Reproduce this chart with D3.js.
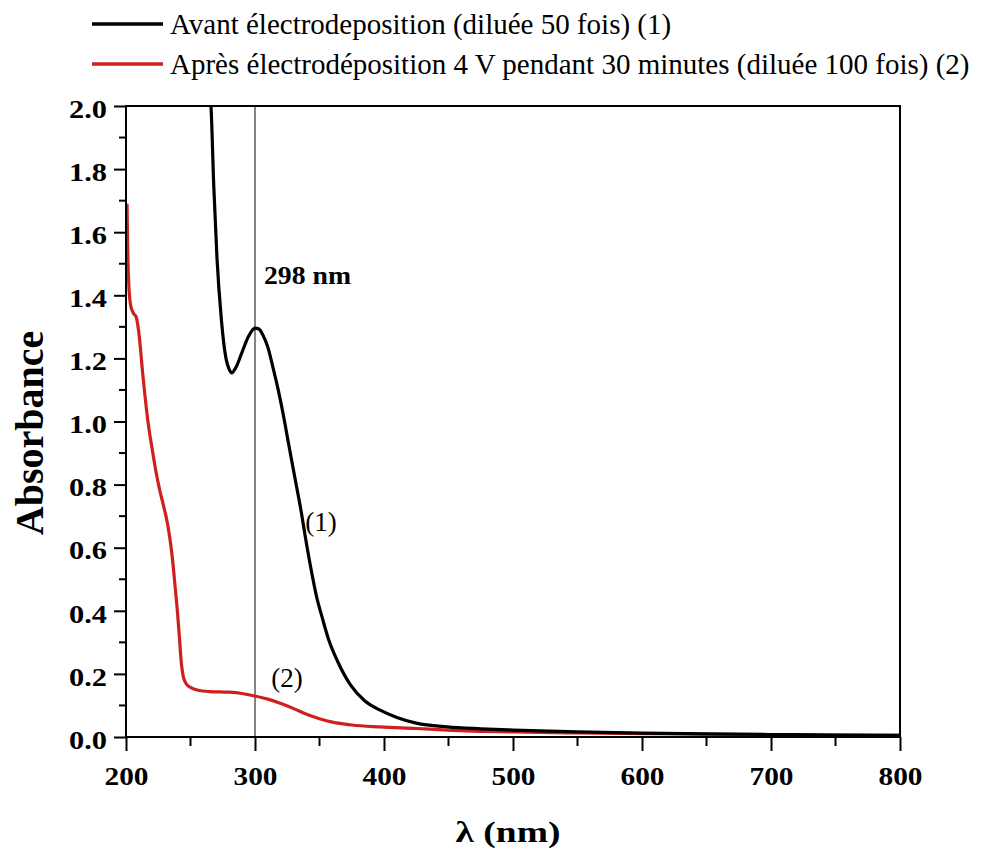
<!DOCTYPE html>
<html>
<head>
<meta charset="utf-8">
<script src="https://cdn.jsdelivr.net/npm/d3@7"></script>
<style>
  body { margin: 0; background: #fff; }
  svg { font-family: "Liberation Serif", "Times New Roman", serif; }
</style>
</head>
<body>
<div id="chart"></div>
<script>
// wavelength (nm), absorbance
const curve1 = [
  [262, 2.15], [266, 1.99], [268, 1.75], [270.5, 1.52], [274, 1.32], [277.5, 1.20],
  [280, 1.165], [282, 1.154], [285, 1.17], [290, 1.22], [295, 1.27], [300, 1.296],
  [303, 1.293], [306, 1.275], [310, 1.235], [314, 1.17], [318, 1.10], [322, 1.02],
  [326, 0.93], [331, 0.82], [336, 0.71], [340, 0.61], [344, 0.52], [348, 0.44],
  [352, 0.38], [357, 0.31], [364, 0.24], [374, 0.165], [385, 0.115], [397, 0.085],
  [410, 0.062], [425, 0.044], [449, 0.032], [475, 0.026], [500, 0.022], [550, 0.016],
  [600, 0.012], [650, 0.010], [700, 0.008], [750, 0.006], [800, 0.005]
];
const curve2 = [
  [200.8, 1.69], [201.2, 1.57], [202, 1.45], [203.5, 1.37], [205.5, 1.345], [208, 1.33],
  [210, 1.28], [213, 1.15], [217, 1.0], [219, 0.945], [221, 0.895], [223.5, 0.835],
  [226, 0.785], [229, 0.735], [232, 0.68], [234, 0.63], [236, 0.565], [238, 0.48],
  [240, 0.39], [241.5, 0.31], [243, 0.23], [244.5, 0.19], [247, 0.167], [251, 0.155],
  [256, 0.148], [265, 0.144], [280, 0.142], [290, 0.138], [300, 0.13], [310, 0.12],
  [319, 0.108], [330, 0.09], [340, 0.072], [350, 0.058], [360, 0.047], [375, 0.038],
  [397, 0.032], [425, 0.027], [449, 0.022], [500, 0.016], [550, 0.013], [600, 0.011],
  [700, 0.007], [800, 0.005]
];
const seriesNames = [
  "Avant électrodeposition (diluée 50 fois) (1)",
  "Après électrodéposition 4 V pendant 30 minutes (diluée 100 fois) (2)"
];
const seriesColors = ["#000000", "#cf2020"];
const xTicks = [200, 300, 400, 500, 600, 700, 800];
const xMinor = [250, 350, 450, 550, 650, 750];
const yTicks = [0, 0.2, 0.4, 0.6, 0.8, 1.0, 1.2, 1.4, 1.6, 1.8, 2.0];
const yMinor = [0.1, 0.3, 0.5, 0.7, 0.9, 1.1, 1.3, 1.5, 1.7, 1.9];
const markerLambda = 300;
const markerLabel = "298 nm";

const width = 996, height = 850;
const margin = { top: 106, right: 96, bottom: 113, left: 126 };

const svg = d3.select("#chart").append("svg")
  .attr("width", width)
  .attr("height", height);

const x = d3.scaleLinear().domain([200, 800]).range([margin.left, width - margin.right]);
const y = d3.scaleLinear().domain([0, 2]).range([height - margin.bottom, margin.top]);

svg.append("clipPath").attr("id", "plot")
  .append("rect")
  .attr("x", x(200)).attr("y", y(2))
  .attr("width", x(800) - x(200)).attr("height", y(0) - y(2));

// marker line
svg.append("line")
  .attr("x1", x(markerLambda)).attr("x2", x(markerLambda))
  .attr("y1", y(2)).attr("y2", y(0))
  .attr("stroke", "#333").attr("stroke-width", 1.2);

const line = d3.line()
  .x(d => x(d[0]))
  .y(d => y(d[1]))
  .curve(d3.curveMonotoneX);

svg.append("g").attr("clip-path", "url(#plot)")
  .selectAll("path")
  .data([curve2, curve1])
  .join("path")
  .attr("fill", "none")
  .attr("stroke", (d, i) => seriesColors[1 - i])
  .attr("stroke-width", 3.2)
  .attr("stroke-linejoin", "round")
  .attr("d", line);

// axes
const xAxis = svg.append("g")
  .attr("transform", `translate(0,${y(0)})`)
  .call(d3.axisBottom(x).tickValues(xTicks).tickSize(14).tickFormat(d3.format("d")));
xAxis.append("g").selectAll("line").data(xMinor).join("line")
  .attr("x1", d => x(d)).attr("x2", d => x(d))
  .attr("y1", 0).attr("y2", 9)
  .attr("stroke", "#000").attr("stroke-width", 2);
xAxis.selectAll(".tick text")
  .attr("y", 48).attr("dy", 0)
  .attr("textLength", 44).attr("lengthAdjust", "spacingAndGlyphs")
  .style("font-size", "26px").style("font-weight", "bold")
  .style("font-family", "'Liberation Serif', serif");

const yAxis = svg.append("g")
  .attr("transform", `translate(${x(200)},0)`)
  .call(d3.axisLeft(y).tickValues(yTicks).tickSize(12).tickFormat(d3.format(".1f")));
yAxis.append("g").selectAll("line").data(yMinor).join("line")
  .attr("y1", d => y(d)).attr("y2", d => y(d))
  .attr("x1", 0).attr("x2", -7)
  .attr("stroke", "#000").attr("stroke-width", 2);
yAxis.selectAll(".tick text")
  .attr("x", -19).attr("dy", "0.45em")
  .attr("textLength", 38).attr("lengthAdjust", "spacingAndGlyphs")
  .style("font-size", "25px").style("font-weight", "bold")
  .style("font-family", "'Liberation Serif', serif");

svg.selectAll(".domain").remove();
svg.selectAll(".tick line").attr("stroke", "#000").attr("stroke-width", 2);

// frame
svg.append("rect")
  .attr("x", x(200)).attr("y", y(2))
  .attr("width", x(800) - x(200)).attr("height", y(0) - y(2))
  .attr("fill", "none").attr("stroke", "#000").attr("stroke-width", 2);

// annotations
svg.append("text")
  .attr("x", x(markerLambda) + 9).attr("y", 284)
  .attr("textLength", 87).attr("lengthAdjust", "spacingAndGlyphs")
  .style("font-size", "26px").style("font-weight", "bold")
  .text(markerLabel);

svg.append("text")
  .attr("x", 321).attr("y", 531).attr("text-anchor", "middle")
  .style("font-size", "27px")
  .text("(1)");
svg.append("text")
  .attr("x", 287).attr("y", 687).attr("text-anchor", "middle")
  .style("font-size", "27px")
  .text("(2)");

// axis titles
svg.append("text")
  .attr("transform", "translate(43,433) rotate(-90)")
  .attr("text-anchor", "middle")
  .style("font-size", "40px").style("font-weight", "bold")
  .text("Absorbance");

svg.append("text")
  .attr("x", 508).attr("y", 842).attr("text-anchor", "middle")
  .attr("textLength", 105).attr("lengthAdjust", "spacingAndGlyphs")
  .style("font-size", "30px").style("font-weight", "bold")
  .text("λ (nm)");

// legend
const legend = svg.append("g");
seriesNames.forEach((name, i) => {
  const ly = 24 + i * 40;
  legend.append("line")
    .attr("x1", 92).attr("x2", 163)
    .attr("y1", ly).attr("y2", ly)
    .attr("stroke", seriesColors[i]).attr("stroke-width", 3.5);
  legend.append("text")
    .attr("x", 170).attr("y", ly + 10)
    .style("font-size", "29px")
    .text(name);
});
</script>
</body>
</html>
